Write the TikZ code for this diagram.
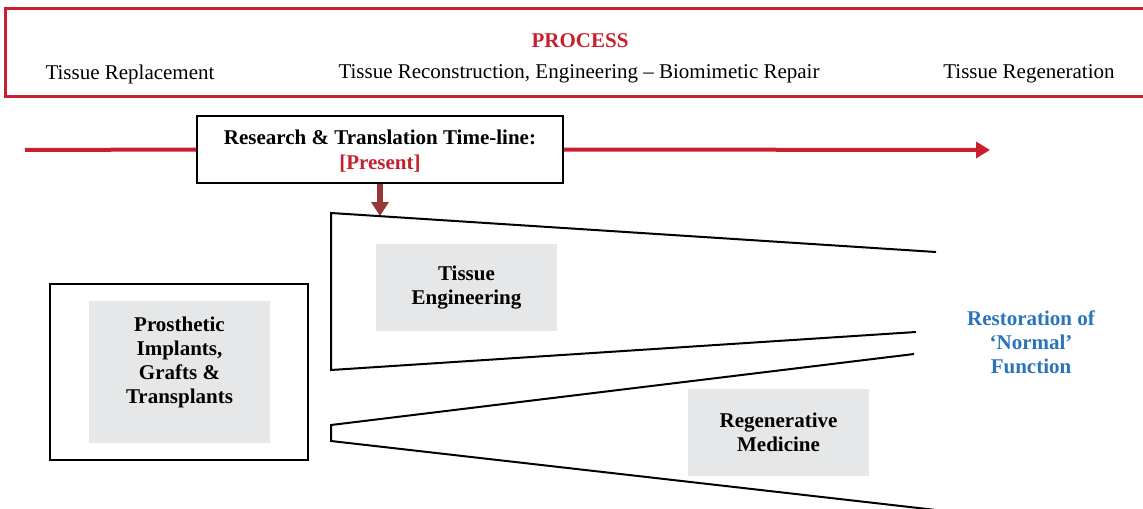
\documentclass[tikz,border=0pt]{standalone}
\usepackage{fontspec}
\setmainfont{Liberation Serif}
\usetikzlibrary{arrows.meta, positioning, calc}
\definecolor{procred}{HTML}{C8202F}
\definecolor{nowred}{HTML}{953735}
\definecolor{restblue}{HTML}{2B74BA}
\definecolor{panelgrey}{HTML}{E6E7E8}
\newcommand{\bodyfont}{\fontsize{10.5}{12}\selectfont}
\newcommand{\panel}[5]{%
  \node[fill=panelgrey, minimum width=90.5pt, minimum height=#3,
        inner sep=0pt] (#1) at #2 {};
  \node[bold, align=center] (#1txt) at ($#2+(0,#4)$) {#5};
}
\tikzset{
  bold/.style={font=\bodyfont\bfseries},
  plain/.style={font=\bodyfont}
}

\begin{document}
\begin{tikzpicture}[x=0.5pt, y=-0.5pt, >=Stealth, line width=1pt]
        \useasboundingbox (0,0) rectangle (1143,508);
        \clip (0,0) rectangle (1143,508);
        % process banner
        \draw[procred, line width=1.5pt] (5,9) rectangle (1160,96);
        \node[bold, procred] (proc) at (580,41) {PROCESS};
        \node[plain] (replace) at (130,74) {Tissue Replacement};
        \node[plain] (reconstr) at (579,74)
          {Tissue Reconstruction, Engineering – Biomimetic Repair};
        \node[plain] (regen) at (1029,74) {Tissue Regeneration};
        % time-line
        \coordinate (tlstart) at (25,150);
        \coordinate (tlend) at (990,150);
        \coordinate (now) at (380,216);
        \node[draw, bold, align=center, minimum width=183pt,
              minimum height=33.5pt, inner sep=0pt, text depth=0pt]
          (timeline) at (380,149.5)
          {Research \& Translation Time-line:\\[0.5pt]\textcolor{procred}{[Present]}};
        \draw[procred, line width=2pt] (tlstart) -- (timeline.west);
        \draw[procred, line width=2pt,
              -{Triangle[width=8pt, length=7pt]}] (timeline.east) -- (tlend);
        \draw[nowred, line width=2.6pt,
              -{Triangle[width=8.5pt, length=7pt]}] (timeline.south -| now) -- (now);
        % wedges
        \draw (936,252) -- (331,213) -- (331,370) -- (916,332);
        \draw (914,354) -- (331,425) -- (331,441) -- (936,510);
        % panels
        \node[draw, minimum width=129pt, minimum height=88pt,
              inner sep=0pt] (prosthbox) at (179,372) {};
        \panel{prosth}{(179.5,372)}{71pt}{-10}{Prosthetic\\Implants,\\Grafts \&\\Transplants}
        \panel{tissueng}{(466.5,287.5)}{43.5pt}{0}{Tissue\\Engineering}
        \panel{regmed}{(778.5,432.5)}{43.5pt}{0}{Regenerative\\Medicine}
        \node[bold, restblue, align=center] (restore) at (1031,342)
          {Restoration of\\‘Normal’\\Function};
      \end{tikzpicture}
\end{document}
